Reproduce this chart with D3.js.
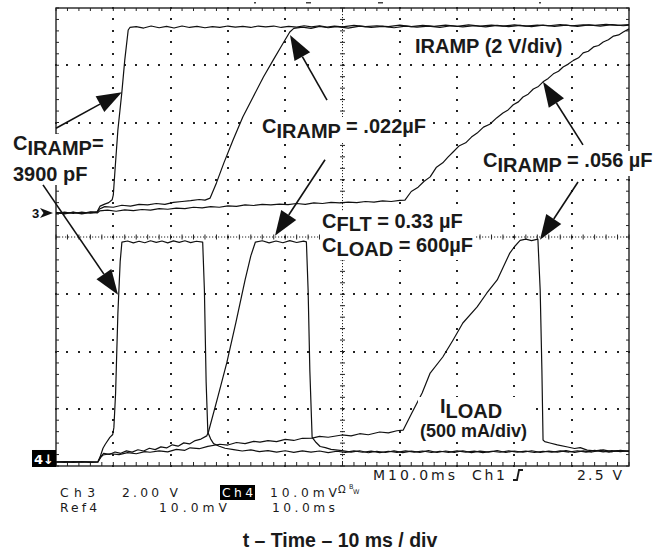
<!DOCTYPE html>
<html>
<head>
<meta charset="utf-8">
<script src="https://cdn.jsdelivr.net/npm/d3@7"></script>
<style>
  body { margin: 0; background: #fff; }
</style>
</head>
<body>
<div id="chart"></div>
<script>
// scope capture, 10 ms/div. time in ms, IRAMP in V (2 V/div), ILOAD in mA (500 mA/div)
const ramp_3900pF = [[0,0.02],[1.5,-0.03],[3,0.03],[4.5,-0.02],[6,0.04],[7.2,0.05],[7.7,0.24],[8.5,0.31],[9.2,0.36],[9.8,0.46],[10.0,0.63],[10.3,1.5],[10.8,2.9],[11.5,4.23],[12.0,5.34],[12.6,6.39],[12.9,6.48],[14,6.51],[15.3,6.46],[16.6,6.53],[18,6.47],[19.3,6.52],[20.6,6.46],[22,6.53],[23.3,6.48],[24.6,6.52],[26,6.47],[27.3,6.51],[28.6,6.48],[30,6.53],[31.3,6.49],[32.6,6.52],[34,6.48],[35.3,6.53],[36.6,6.5],[38,6.53],[39.3,6.48],[40.6,6.52],[42,6.49],[43.3,6.54],[44.6,6.5],[46,6.54],[47.3,6.49],[48.6,6.53],[50,6.5],[52,6.55],[54,6.51],[56,6.54],[58,6.51],[60,6.56],[62,6.51],[64,6.55],[66,6.52],[68,6.56],[70,6.52],[72,6.57],[74,6.53],[76,6.56],[78,6.53],[80,6.57],[82,6.53],[84,6.56],[86,6.54],[88,6.58],[90,6.54],[92,6.57],[94,6.55],[96,6.59],[98,6.55],[100,6.58]];
const ramp_022uF = [[0,-0.02],[1.5,0.03],[3,-0.02],[4.5,0.03],[6,-0.01],[7.2,0.03],[7.6,0.14],[8.5,0.22],[10,0.2],[11.5,0.27],[13,0.24],[14.5,0.3],[16,0.28],[17.5,0.33],[19,0.3],[20.5,0.37],[22,0.4],[23.5,0.43],[25,0.47],[26,0.45],[26.9,0.52],[28,1.05],[29.3,1.75],[30.9,2.55],[32.6,3.35],[34.4,4.05],[36.2,4.75],[37.9,5.34],[39.4,5.85],[40.8,6.32],[41.5,6.45],[43,6.49],[44.5,6.45],[46,6.52],[47.5,6.47],[49,6.51],[51,6.46],[53,6.53],[55,6.48],[57,6.52],[59,6.47],[61,6.53],[63,6.49],[65,6.53],[67,6.48],[69,6.54],[71,6.5],[73,6.54],[75,6.5],[77,6.55],[79,6.51],[81,6.55],[83,6.51],[85,6.56],[87,6.52],[89,6.56],[91,6.52],[93,6.57],[95,6.53],[97,6.58],[99,6.54],[100,6.56]];
const ramp_056uF = [[0,0.01],[1.5,-0.02],[3,0.02],[4.5,-0.03],[6,0.02],[7.2,0.0],[7.6,0.07],[9,0.1],[10.5,0.06],[12,0.11],[13.5,0.08],[15,0.12],[16.5,0.1],[18,0.15],[19.5,0.13],[21,0.17],[22.5,0.15],[24,0.2],[25.5,0.18],[27,0.22],[28.5,0.2],[30,0.25],[31.5,0.23],[33,0.28],[34.5,0.26],[36,0.3],[37.5,0.28],[39,0.31],[40.5,0.29],[42,0.33],[43.5,0.3],[45,0.35],[46.5,0.33],[48,0.37],[49.5,0.35],[51,0.38],[52.5,0.36],[54,0.4],[55.5,0.38],[57,0.42],[58.5,0.4],[60,0.44],[60.9,0.45],[62,0.75],[63.2,0.9],[64.2,1.1],[65.3,1.26],[66.4,1.6],[67.5,1.75],[68.4,1.95],[69.3,2.13],[70.4,2.35],[71.5,2.45],[72.5,2.65],[73.5,2.79],[74.6,3.0],[75.7,3.1],[76.9,3.32],[78,3.49],[78.9,3.6],[79.8,3.78],[80.7,3.88],[81.5,4.05],[82.4,4.15],[83.3,4.33],[84.2,4.42],[85,4.58],[85.9,4.7],[86.8,4.86],[87.7,4.95],[88.5,5.1],[89.4,5.2],[90.3,5.33],[91.2,5.42],[92,5.59],[92.9,5.65],[93.8,5.8],[94.7,5.85],[95.5,5.97],[96.4,6.05],[97.3,6.18],[98.2,6.22],[99,6.32],[100,6.43]];

const load_3900pF = [[0,0],[1.5,4],[3,-3],[4.5,3],[6,-2],[7.3,0],[7.7,45],[8.2,120],[8.6,155],[9.4,215],[9.9,240],[10.1,300],[10.4,600],[10.8,1300],[11.2,1750],[11.5,1920],[12.5,1930],[13.5,1914],[14.5,1928],[15.5,1915],[16.5,1932],[17.5,1918],[18.5,1930],[19.5,1914],[20.5,1931],[21.5,1918],[22.5,1932],[23.5,1916],[24.5,1928],[25.6,1920],[25.9,1500],[26.2,700],[26.5,260],[27,200],[27.5,160],[28.5,138],[29.5,120],[31,108],[32.5,96],[34,106],[35.5,90],[37,100],[38.5,86],[40,98],[41.5,84],[43,97],[44.5,86],[46,96],[47.5,82],[49,94],[50.5,84],[52,97],[53.5,85],[55,95],[56.5,82],[58,94],[59.5,84],[61,97],[62.5,86],[64,96],[65.5,83],[67,94],[68.5,84],[70,97],[71.5,86],[73,95],[74.5,82],[76,94],[77.5,85],[79,97],[80.5,86],[82,95],[83.5,83],[85,94],[86.5,85],[88,97],[89.5,87],[91,98],[92.5,86],[94,102],[95.5,88],[97,100],[98.5,90],[100,98]];
const load_022uF = [[0,2],[1.5,-3],[3,3],[4.5,-2],[6,2],[7.3,0],[7.8,45],[8.3,75],[9.3,66],[10.3,87],[11.3,76],[12.3,97],[13.3,86],[14.3,107],[15.3,96],[16.3,120],[17.3,108],[18.3,132],[19.3,123],[20.3,150],[21.3,138],[22.3,167],[23.3,158],[24.3,187],[25.3,200],[26.3,228],[26.6,262],[28.2,560],[29.8,865],[31.4,1220],[33.0,1590],[34.0,1800],[34.8,1921],[36,1932],[37.2,1914],[38.4,1930],[39.6,1915],[40.8,1933],[42,1917],[43.2,1929],[43.7,1922],[44.0,1500],[44.3,800],[44.7,215],[45.4,170],[46.1,135],[47,125],[48,110],[49.9,100],[51.5,86],[53,98],[54.5,81],[56,94],[57.5,83],[59,97],[60.5,82],[62,95],[63.5,84],[65,99],[66.5,83],[68,96],[69.5,84],[71,98],[72.5,82],[74,95],[75.5,86],[77,99],[78.5,83],[80,96],[81.5,85],[83,98],[84.5,84],[86,95],[87.5,86],[89,100],[90.5,84],[92,97],[93.5,87],[95,101],[96.5,86],[98,99],[100,92]];
const load_056uF = [[0,-2],[1.5,3],[3,-2],[4.5,2],[6,-3],[7.3,0],[7.8,40],[8.2,61],[9.5,72],[11,64],[12.5,82],[14,72],[15.5,90],[16.4,85],[18,97],[19.5,88],[21,110],[22.5,102],[23.4,124],[25,116],[26.5,137],[28.6,155],[30,148],[31.5,170],[33,160],[34.5,180],[35.6,173],[37,187],[38.5,178],[40,197],[41.5,188],[43,207],[44.7,208],[46,224],[47.5,216],[49.9,236],[51.5,228],[53,247],[54.5,238],[56.5,262],[58,254],[59.5,273],[60.6,279],[62.1,428],[63.9,603],[65.3,777],[67.5,917],[69.3,1066],[71,1214],[73.5,1354],[75.2,1476],[77,1590],[79.2,1825],[80,1880],[81,1935],[82,1946],[83,1934],[84.1,1946],[84.5,1500],[84.8,800],[85.0,192],[85.3,178],[86.2,166],[87.5,150],[89.3,131],[90.5,118],[91.5,126],[92.7,104],[94,97],[95.5,106],[97,90],[98.5,102],[100,94]];

const ramp_series = [ramp_3900pF, ramp_022uF, ramp_056uF];
const load_series = [load_3900pF, load_022uF, load_056uF];

// screen divisions
const time_divs = d3.range(0, 101, 10);
const volt_divs = d3.range(-4, 4.01, 1);
const ramp_ground = 0.42;   // ch3 ground marker, in div
const load_ground = -3.93;  // ch4 ground marker, in div

const margin = {top: 8, left: 56};
const width = 573, height = 458;

const svg = d3.select("#chart").append("svg")
  .attr("width", 661)
  .attr("height", 554)
  .style("background", "#fff");

const x_scale = d3.scaleLinear().domain([0, 100]).range([0, width]);
const y_scale = d3.scaleLinear().domain([-4, 4]).range([height, 0]);

const g = svg.append("g")
  .attr("transform", "translate(" + margin.left + "," + margin.top + ")");

// ---- graticule ----
const minor_t = d3.range(0, 100.01, 2);
const minor_v = d3.range(-4, 4.001, 0.2);
const grid = g.append("g").attr("fill", "#222");

time_divs.filter(t => t > 0 && t < 100 && t !== 50).forEach(t => {
  grid.selectAll(null).data(minor_v).enter().append("rect")
    .attr("x", Math.round(x_scale(t)) - 1).attr("y", d => Math.round(y_scale(d)) - 1)
    .attr("width", 2).attr("height", 2);
});
volt_divs.filter(v => v > -4 && v < 4 && v !== 0).forEach(v => {
  grid.selectAll(null).data(minor_t).enter().append("rect")
    .attr("x", d => Math.round(x_scale(d)) - 1).attr("y", Math.round(y_scale(v)) - 1)
    .attr("width", 2).attr("height", 2);
});

const axes = g.append("g").attr("stroke", "#222").attr("stroke-width", 1);
// centre cross, finer dotted with ticks
axes.append("line")
  .attr("x1", x_scale(50)).attr("x2", x_scale(50)).attr("y1", 0).attr("y2", height)
  .attr("stroke-dasharray", "1.2,1.8");
axes.append("line")
  .attr("x1", 0).attr("x2", width).attr("y1", y_scale(0)).attr("y2", y_scale(0))
  .attr("stroke-dasharray", "1.2,1.8");
axes.selectAll(null).data(minor_v).enter().append("line")
  .attr("x1", x_scale(50) - 2.5).attr("x2", x_scale(50) + 2.5)
  .attr("y1", d => y_scale(d)).attr("y2", d => y_scale(d));
axes.selectAll(null).data(minor_t).enter().append("line")
  .attr("x1", d => x_scale(d)).attr("x2", d => x_scale(d))
  .attr("y1", y_scale(0) - 2.5).attr("y2", y_scale(0) + 2.5);

// edge ticks
axes.selectAll(null).data(minor_v).enter().append("line")
  .attr("x1", 0).attr("x2", 3).attr("y1", d => y_scale(d)).attr("y2", d => y_scale(d));
axes.selectAll(null).data(minor_v).enter().append("line")
  .attr("x1", width - 3).attr("x2", width).attr("y1", d => y_scale(d)).attr("y2", d => y_scale(d));
axes.selectAll(null).data(minor_t).enter().append("line")
  .attr("x1", d => x_scale(d)).attr("x2", d => x_scale(d)).attr("y1", 0).attr("y2", 3);
axes.selectAll(null).data(minor_t).enter().append("line")
  .attr("x1", d => x_scale(d)).attr("x2", d => x_scale(d)).attr("y1", height - 4).attr("y2", height);

g.append("rect")
  .attr("width", width).attr("height", height)
  .attr("fill", "none").attr("stroke", "#222").attr("stroke-width", 1.4);

// ---- traces ----
const ramp_line = d3.line()
  .x(d => x_scale(d[0]))
  .y(d => y_scale(d[1] / 2 + ramp_ground));
const load_line = d3.line()
  .x(d => x_scale(d[0]))
  .y(d => y_scale(d[1] / 500 + load_ground));

const traces = g.append("g")
  .attr("fill", "none").attr("stroke", "#111").attr("stroke-width", 1.2)
  .attr("stroke-linejoin", "round");
ramp_series.forEach(s => traces.append("path").datum(s).attr("d", ramp_line));
load_series.forEach(s => traces.append("path").datum(s).attr("d", load_line));

// ground markers
svg.append("text")
  .attr("x", 32).attr("y", margin.top + y_scale(ramp_ground) + 5)
  .attr("font-family", "'Liberation Sans', Arial, sans-serif").attr("font-weight", "bold")
  .attr("font-size", 13).attr("fill", "#111").text("3");
{
  const yy = margin.top + y_scale(ramp_ground);
  svg.append("path")
    .attr("d", `M40,${yy - 5} L53,${yy} L40,${yy + 5} L43.5,${yy} Z`)
    .attr("fill", "#111");
}
{
  const yy = margin.top + y_scale(load_ground);
  svg.append("rect").attr("x", 32).attr("y", yy - 12).attr("width", 24).attr("height", 17).attr("fill", "#000");
  svg.append("text").attr("x", 34).attr("y", yy + 2)
    .attr("font-family", "'DejaVu Sans', sans-serif").attr("font-weight", "bold")
    .attr("font-size", 13).attr("fill", "#fff").text("4\u2193");
}

// small marks above the screen
svg.append("g").attr("fill", "#444").selectAll("rect")
  .data([[254, 2], [306, 5], [378, 5], [539, 2]])
  .enter().append("rect")
  .attr("x", d => d[0]).attr("y", 2).attr("width", d => d[1]).attr("height", 1.5);

// ---- annotations ----
const labels = [
  {size: 20, lines: [
    {x: 13, y: 150, parts: [["C", 0], ["IRAMP", 5], ["=", -5]]},
    {x: 13, y: 181, parts: [["3900 pF", 0]]}]},
  {size: 20, lines: [{x: 262, y: 133, parts: [["C", 0], ["IRAMP", 5], [" = .022\u00b5F", -5]]}]},
  {size: 20, lines: [{x: 415, y: 53, parts: [["IRAMP (2 V/div)", 0]]}]},
  {size: 20, lines: [{x: 483, y: 167, parts: [["C", 0], ["IRAMP", 5], [" = .056 \u00b5F", -5]]}]},
  {size: 20, lines: [
    {x: 322, y: 228, parts: [["C", 0], ["FLT", 3], [" = 0.33 \u00b5F", -3]]},
    {x: 322, y: 252, parts: [["C", 0], ["LOAD", 4], ["  = 600\u00b5F", -4]]}]},
  {size: 20, lines: [
    {x: 440, y: 413, parts: [["I", 0], ["LOAD", 5]]},
    {x: 420, y: 437, size: 18, parts: [["(500 mA/div)", 0]]}]}
];

const label_layer = svg.append("g")
  .attr("font-family", "'Liberation Sans', Arial, Helvetica, sans-serif")
  .attr("font-weight", "bold").attr("fill", "#1a1a1a");

labels.forEach(l => {
  const grp = label_layer.append("g").attr("font-size", l.size);
  l.lines.forEach(line => {
    const t = grp.append("text").attr("x", line.x).attr("y", line.y);
    if (line.size) t.attr("font-size", line.size);
    line.parts.forEach(p => t.append("tspan").attr("dy", p[1]).text(p[0]));
  });
  const bb = grp.node().getBBox();
  grp.insert("rect", ":first-child")
    .attr("x", bb.x - 2).attr("y", bb.y + 2)
    .attr("width", bb.width + 4).attr("height", bb.height - 2)
    .attr("fill", "#fff");
});

// arrows, ends given in ms / div
const arrows = [
  {from: [0, 1.9], to: [11.5, 2.53]},
  {from: [-2.27, 0.91], to: [10.82, -1.01]},
  {from: [47.3, 2.39], to: [40.84, 3.53]},
  {from: [46.95, 1.35], to: [38.22, 0.02]},
  {from: [91.97, 1.61], to: [84.99, 2.71]},
  {from: [91.1, 0.96], to: [84.47, -0.05]}
];
const arrow_layer = svg.append("g").attr("transform", "translate(" + margin.left + "," + margin.top + ")");
arrows.forEach(a => {
  const x1 = x_scale(a.from[0]), y1 = y_scale(a.from[1]);
  const x2 = x_scale(a.to[0]), y2 = y_scale(a.to[1]);
  const len = Math.hypot(x2 - x1, y2 - y1);
  const ux = (x2 - x1) / len, uy = (y2 - y1) / len;
  const hl = 25, hw = 9;
  const bx = x2 - ux * hl, by = y2 - uy * hl;
  arrow_layer.append("line")
    .attr("x1", x1).attr("y1", y1).attr("x2", bx).attr("y2", by)
    .attr("stroke", "#111").attr("stroke-width", 1.6);
  arrow_layer.append("path")
    .attr("d", `M${x2},${y2} L${bx - uy * hw},${by + ux * hw} L${bx + uy * hw},${by - ux * hw} Z`)
    .attr("fill", "#111");
});

// ---- scope readout ----
const readouts = [
  {x: 373, y: 480, s: "M10.0ms", len: 82},
  {x: 472, y: 480, s: "Ch1", len: 33},
  {x: 577, y: 480, s: "2.5 V", len: 45},
  {x: 60, y: 497, s: "Ch3", len: 35},
  {x: 122, y: 497, s: "2.00 V", len: 56},
  {x: 270, y: 497, s: "10.0mV", len: 67},
  {x: 60, y: 511.5, s: "Ref4", len: 37},
  {x: 159, y: 511.5, s: "10.0mV", len: 68},
  {x: 272, y: 511.5, s: "10.0ms", len: 63}
];
const ro = svg.append("g")
  .attr("font-family", "'DejaVu Sans', sans-serif").attr("font-size", 14).attr("fill", "#1a1a1a");
ro.selectAll("text").data(readouts).enter().append("text")
  .attr("x", d => d.x).attr("y", d => d.y)
  .attr("font-size", d => d.y > 485 ? 12.3 : 14)
  .attr("textLength", d => d.len).attr("lengthAdjust", "spacing")
  .text(d => d.s);

ro.append("rect").attr("x", 220).attr("y", 485).attr("width", 35).attr("height", 15).attr("fill", "#000");
ro.append("text").attr("x", 222).attr("y", 497).attr("font-size", 12.3).attr("fill", "#fff")
  .attr("textLength", 31).attr("lengthAdjust", "spacing").text("Ch4");
ro.append("text").attr("x", 338).attr("y", 493).attr("font-size", 10).text("\u03a9");
ro.append("text").attr("x", 349).attr("y", 489).attr("font-size", 6.5).text("B");
ro.append("text").attr("x", 353).attr("y", 494).attr("font-size", 6.5).text("W");
// rising edge trigger glyph
ro.append("path")
  .attr("d", "M513,480 L517,480 L519,470 L523,470")
  .attr("fill", "none").attr("stroke", "#1a1a1a").attr("stroke-width", 1.8);

// ---- x caption ----
svg.append("text")
  .attr("x", 340).attr("y", 547)
  .attr("text-anchor", "middle")
  .attr("font-family", "'Liberation Sans', Arial, Helvetica, sans-serif")
  .attr("font-weight", "bold").attr("font-size", 19.5).attr("fill", "#1a1a1a")
  .text("t \u2013 Time \u2013 10 ms / div");
</script>
</body>
</html>
